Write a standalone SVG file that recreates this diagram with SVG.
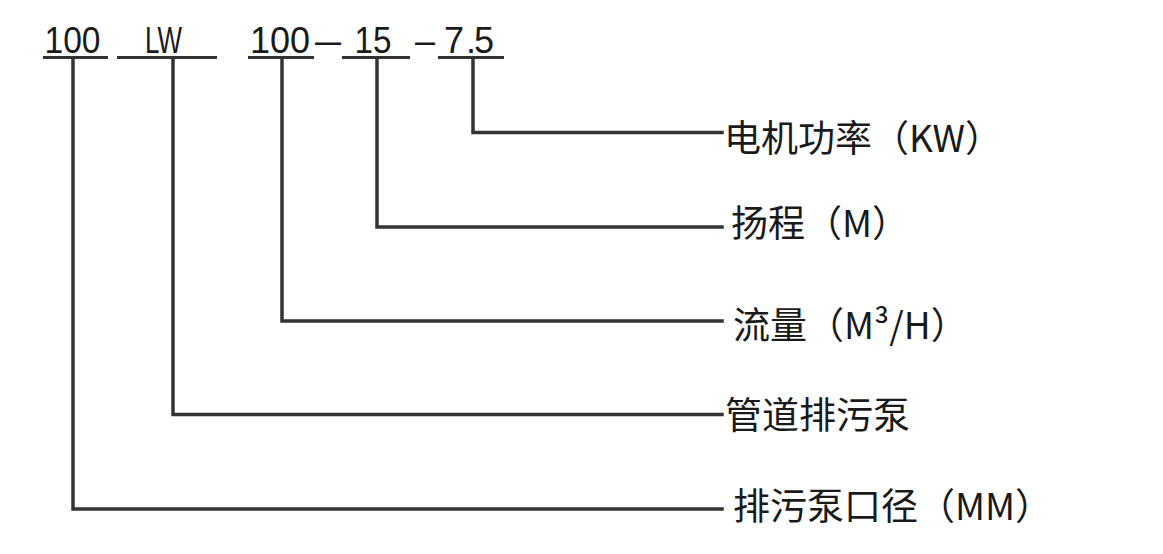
<svg xmlns="http://www.w3.org/2000/svg" width="1163" height="554" viewBox="0 0 1163 554">
<style>
.code{font-family:"Liberation Sans",Arial,sans-serif;font-size:36px;fill:#1a1a1a}
.lbl{font-family:"Noto Sans CJK SC","Noto Sans",sans-serif;font-size:37px;fill:#1a1a1a}
.ln{stroke:#333;stroke-width:3.5;fill:none;stroke-linecap:square;stroke-linejoin:miter}
.ul{stroke:#333;stroke-width:3;fill:none}
</style>
<rect width="1163" height="554" fill="#fff"/>
<g id="code">
<text class="code" x="44.5" y="52.5" textLength="56" lengthAdjust="spacingAndGlyphs">100</text>
<text class="code" x="145" y="52.5" textLength="37" lengthAdjust="spacingAndGlyphs">LW</text>
<text class="code" x="250" y="52.5">100</text>
<text class="code" x="315" y="52.5" textLength="26" lengthAdjust="spacingAndGlyphs">—</text>
<text class="code" x="354.5" y="52.5" textLength="37" lengthAdjust="spacingAndGlyphs">15</text>
<text class="code" x="415" y="52.5">–</text>
<text class="code" x="444" y="52.5" dx="0 2 -2">7.5</text>
<line class="ul" x1="43" y1="57.5" x2="108" y2="57.5"/>
<line class="ul" x1="117" y1="57.5" x2="217" y2="57.5"/>
<line class="ul" x1="248" y1="57.5" x2="314" y2="57.5"/>
<line class="ul" x1="342" y1="57.5" x2="410" y2="57.5"/>
<line class="ul" x1="438" y1="57.5" x2="504" y2="57.5"/>
</g>
<g id="connectors">
<polyline class="ln" points="473,58 473,132.5 722,132.5"/>
<polyline class="ln" points="377,58 377,227 722,227"/>
<polyline class="ln" points="282,58 282,321 722,321"/>
<polyline class="ln" points="173,58 173,414.5 722,414.5"/>
<polyline class="ln" points="73,58 73,509 722,509"/>
</g>
<g id="n-power"><text class="lbl" x="724" y="151.5">电机功率（KW）</text></g>
<g id="n-head"><text class="lbl" x="731" y="237">扬程（M）</text></g>
<g id="n-flow"><text class="lbl" x="733" y="338.5">流量（M³/H）</text></g>
<g id="n-type"><text class="lbl" x="725" y="428.5">管道排污泵</text></g>
<g id="n-dia"><text class="lbl" x="733" y="520">排污泵口径（MM）</text></g>
</svg>
